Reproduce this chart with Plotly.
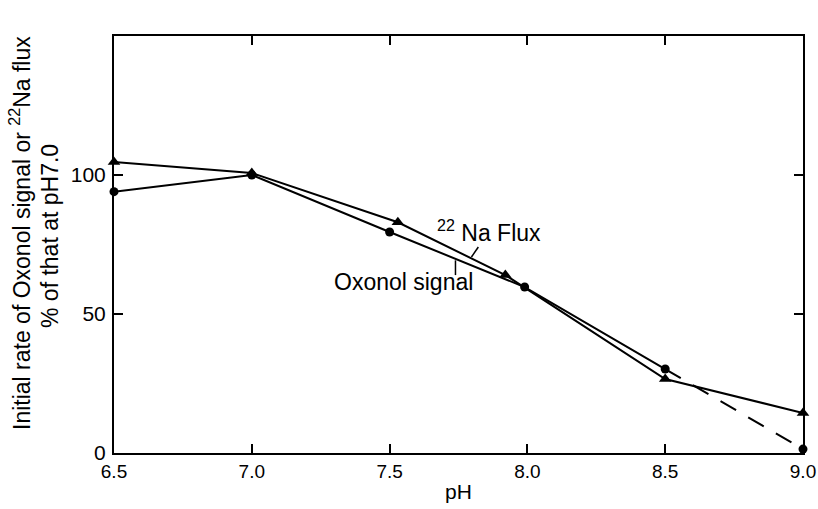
import plotly.graph_objects as go

# pH values and responses (% of value at pH 7.0)
na_ph = [6.5, 7.0, 7.53, 7.92, 8.5, 9.0]
na_flux = [104.7, 100.7, 83.0, 64.0, 26.6, 14.4]

ox_ph = [6.5, 7.0, 7.5, 7.99, 8.5]
ox_signal = [94.0, 100.0, 79.5, 59.7, 30.2]

ox_ext_ph = [8.5, 9.0]
ox_ext_signal = [30.2, 1.4]

x_ticks = [6.5, 7.0, 7.5, 8.0, 8.5, 9.0]
x_ticklabels = ["6.5", "7.0", "7.5", "8.0", "8.5", "9.0"]
y_ticks = [0, 50, 100, 150]
y_ticklabels = ["0", "50", "100", ""]

FONT = "Liberation Sans, Arial, sans-serif"

fig = go.Figure()
fig.add_trace(go.Scatter(x=ox_ext_ph, y=ox_ext_signal, mode="lines",
                         line=dict(color="black", width=2, dash="18px,14px"),
                         showlegend=False))
fig.add_trace(go.Scatter(x=na_ph, y=na_flux, mode="lines+markers",
                         line=dict(color="black", width=2),
                         marker=dict(symbol="triangle-up", size=11, color="black"),
                         cliponaxis=False, showlegend=False))
fig.add_trace(go.Scatter(x=ox_ph, y=ox_signal,
                         mode="lines", line=dict(color="black", width=2),
                         showlegend=False))
fig.add_trace(go.Scatter(x=ox_ph + ox_ext_ph[1:], y=ox_signal + ox_ext_signal[1:],
                         mode="markers",
                         marker=dict(symbol="circle", size=9, color="black"),
                         cliponaxis=False, showlegend=False))

# leader lines for the curve labels
fig.add_shape(type="line", x0=7.822, y0=74.1, x1=7.797, y1=70.5,
              xref="x", yref="y", line=dict(color="black", width=1.5))
fig.add_shape(type="line", x0=7.739, y0=69.3, x1=7.739, y1=64.0,
              xref="x", yref="y", line=dict(color="black", width=1.5))

fig.add_annotation(x=7.862, y=80.0, xref="x", yref="y",
                   text="<sup>22</sup> Na Flux", showarrow=False,
                   font=dict(family=FONT, size=23, color="black"))
fig.add_annotation(x=7.549, y=61.5, xref="x", yref="y",
                   text="Oxonol signal", showarrow=False,
                   font=dict(family=FONT, size=23, color="black"))

# y-axis title (two rotated lines)
fig.add_annotation(x=20, y=233, xref="paper", yref="paper",
                   text="Initial rate of Oxonol signal or <sup>22</sup>Na flux",
                   textangle=-90, showarrow=False,
                   font=dict(family=FONT, size=23, color="black"))
fig.add_annotation(x=50, y=236, xref="paper", yref="paper",
                   text="% of that at pH7.0", textangle=-90, showarrow=False,
                   font=dict(family=FONT, size=23, color="black"))

W, H = 818, 509
ML, MR, MT, MB = 114, 15, 36, 56
pw, ph = W - ML - MR, H - MT - MB
# convert the pixel positions of the title annotations to paper coordinates
for ann in fig.layout.annotations[2:]:
    ann.x = (ann.x - ML) / pw
    ann.y = (H - MB - ann.y) / ph
    ann.xanchor = "center"
    ann.yanchor = "middle"

fig.update_layout(
    width=W, height=H,
    margin=dict(l=ML, r=MR, t=MT, b=MB, autoexpand=False),
    paper_bgcolor="white", plot_bgcolor="white",
    font=dict(family=FONT, size=21, color="black"),
    xaxis=dict(range=[6.5, 9.0], tickvals=x_ticks, ticktext=x_ticklabels,
               ticks="inside", ticklen=9, tickwidth=1.5, tickcolor="black",
               showline=True, linecolor="black", linewidth=2, mirror="ticks",
               showgrid=False, zeroline=False, automargin=False,
               ticklabeloverflow="allow", tickfont=dict(size=19),
               title=dict(text="pH", standoff=4, font=dict(size=21))),
    yaxis=dict(range=[0, 150], tickvals=y_ticks, ticktext=y_ticklabels,
               ticks="inside", ticklen=9, tickwidth=1.5, tickcolor="black",
               showline=True, linecolor="black", linewidth=2, mirror="ticks",
               showgrid=False, zeroline=False, ticklabelstandoff=2,
               ticklabeloverflow="allow", automargin=False),
)

fig.write_html("out.html")
